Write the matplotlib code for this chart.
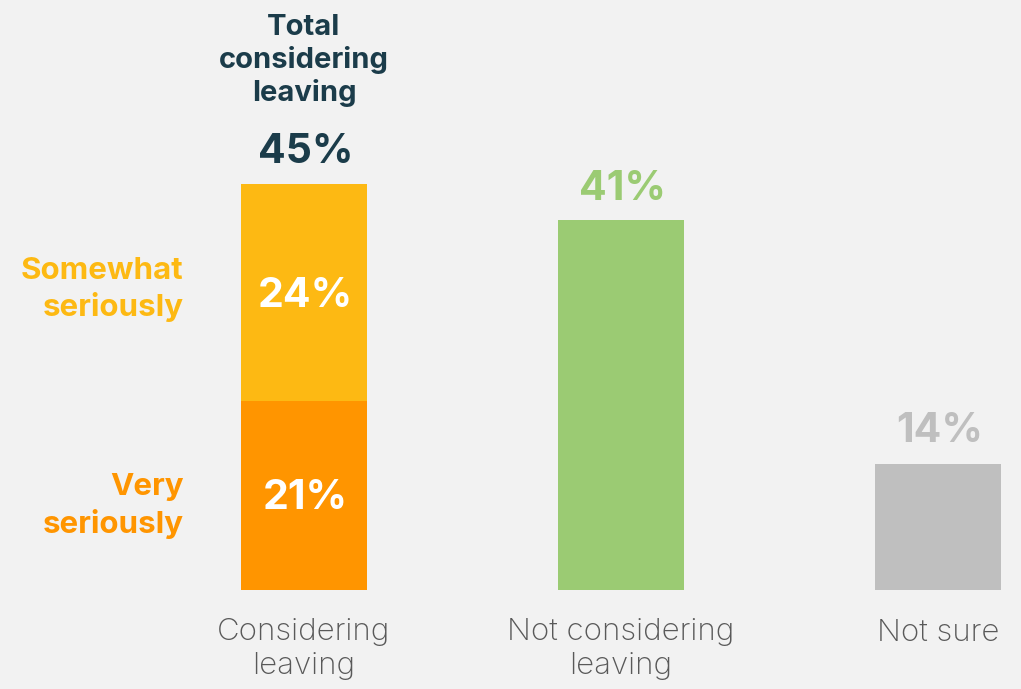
import matplotlib
matplotlib.use("Agg")
import matplotlib.pyplot as plt

# Survey shares (percent)
categories = ["Considering\nleaving", "Not considering\nleaving", "Not sure"]
very_seriously = 21
somewhat_seriously = 24
total_considering = very_seriously + somewhat_seriously
not_considering = 41
not_sure = 14

segment_labels = ["Very\nseriously", "Somewhat\nseriously"]
total_label = "Total\nconsidering\nleaving"

BG = "#F2F2F2"
ORANGE = "#FF9500"
YELLOW = "#FDB913"
GREEN = "#9BCB73"
GRAY = "#BFBFBF"
DARK = "#1B3C4A"
LABEL = "#595959"

plt.rcParams["font.family"] = ["Inter", "DejaVu Sans"]

fig = plt.figure(figsize=(10.21, 6.89), dpi=100, facecolor=BG)
ax = fig.add_axes([0, 0, 1, 1])
ax.set_facecolor(BG)
ax.set_xlim(-0.959, 2.262)
ax.set_ylim(-10.98, 65.41)
ax.axis("off")

w = 0.40
x = [0, 1, 2]

ax.bar(x[0], very_seriously, width=w, color=ORANGE)
ax.bar(x[0], somewhat_seriously, bottom=very_seriously, width=w, color=YELLOW)
ax.bar(x[1], not_considering, width=w, color=GREEN)
ax.bar(x[2], not_sure, width=w, color=GRAY)

bold = dict(fontweight="bold", ha="center", va="center")

# values inside the stacked bar
ax.text(x[0] + 0.005, very_seriously / 2 - 0.3, f"{very_seriously}%", color="white",
        fontsize=29.5, **bold)
ax.text(x[0] + 0.005, very_seriously + somewhat_seriously / 2 - 0.4, f"{somewhat_seriously}%",
        color="white", fontsize=29.5, **bold)

# values above bars
ax.text(x[0] + 0.005, total_considering + 3.6, f"{total_considering}%", color=DARK,
        fontsize=29.5, **bold)
ax.text(x[1] + 0.005, not_considering + 3.5, f"{not_considering}%", color=GREEN,
        fontsize=29.5, **bold)
ax.text(x[2] + 0.005, not_sure + 3.6, f"{not_sure}%", color=GRAY, fontsize=29.5, **bold)

ax.text(x[0], 58.7, total_label, color=DARK, fontsize=21, fontweight="bold",
        ha="center", va="center", linespacing=1.22)

# segment names to the left of the stacked bar
ax.text(-0.38, 9.3, segment_labels[0], color=ORANGE, fontsize=22.5,
        fontweight="bold", ha="right", va="center", linespacing=1.3)
ax.text(-0.38, 33.3, segment_labels[1], color=YELLOW,
        fontsize=22.5, fontweight="bold", ha="right", va="center", linespacing=1.3)

# category names under the bars
for xi, name in zip(x, categories):
    ax.text(xi, -3.15, name, color=LABEL, fontsize=22.5, fontweight="light",
            ha="center", va="top", linespacing=1.25)

fig.savefig("out.png", dpi=100, facecolor=BG)
